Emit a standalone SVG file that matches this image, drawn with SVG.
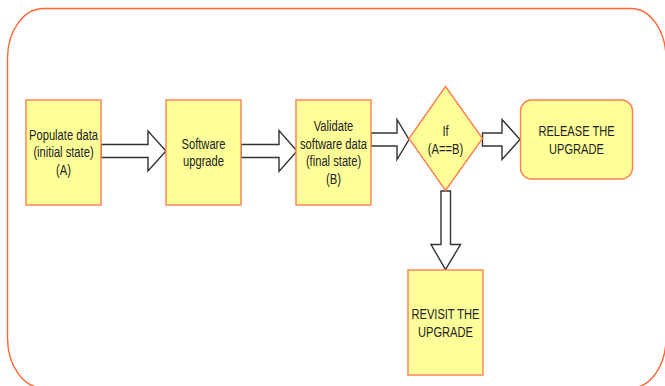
<svg xmlns="http://www.w3.org/2000/svg" width="665" height="386" viewBox="0 0 665 386">
<style>
.node{fill:#ffff99;stroke:#ff7f50;stroke-width:1.4}
.arrow{fill:#ffffff;stroke:#333333;stroke-width:1.4;stroke-linejoin:miter}
.lbl{font-family:"Liberation Sans",Arial,sans-serif;font-size:15px;fill:#222222;text-anchor:middle}
</style>
<rect width="665" height="386" fill="#ffffff"/>
<g id="frame">
<path d="M43.5,8.5 H631 A35,50 0 0 1 666,58.5 V338 A35,50 0 0 1 631,388 H43.5 A36,50 0 0 1 7.5,338 V58.5 A36,50 0 0 1 43.5,8.5 Z" fill="none" stroke="#ff6633" stroke-width="1.4"/>
</g>
<g id="connectors">
<path class="arrow" d="M101,144.5 H148 V131 L166,151 L148,171 V157.5 H101 Z"/>
<path class="arrow" d="M241,144.5 H279 V130.5 L297,151 L279,171.5 V157.5 H241 Z"/>
<path class="arrow" d="M371,133 H397 V119.5 L409,139.5 L397,159.5 V146 H371 Z"/>
<path class="arrow" d="M482.5,133 H502 V119.5 L520,139.5 L502,159.5 V146 H482.5 Z"/>
<path class="arrow" d="M441,191 V244.5 H431 L445.5,269.5 L460.5,244.5 H450.5 V191 Z"/>
</g>
<g id="populate">
<rect class="node" x="26" y="100" width="75" height="105"/>
<g transform="translate(63.5,0) scale(0.745,1)">
<text class="lbl" x="0" y="140">Populate data</text>
<text class="lbl" x="0" y="157.5">(initial state)</text>
<text class="lbl" x="0" y="175">(A)</text>
</g>
</g>
<g id="upgrade">
<rect class="node" x="166" y="100" width="75" height="105"/>
<g transform="translate(203.5,0) scale(0.745,1)">
<text class="lbl" x="0" y="149">Software</text>
<text class="lbl" x="0" y="166.5">upgrade</text>
</g>
</g>
<g id="validate">
<rect class="node" x="296" y="100" width="75" height="105"/>
<g transform="translate(333.5,0) scale(0.745,1)">
<text class="lbl" x="0" y="131">Validate</text>
<text class="lbl" x="0" y="148.7">software data</text>
<text class="lbl" x="0" y="166.3">(final state)</text>
<text class="lbl" x="0" y="184">(B)</text>
</g>
</g>
<g id="decision">
<path class="node" d="M445.5,86.5 L482.5,138.5 L445.5,190.5 L409,138.5 Z"/>
<g transform="translate(445.5,0) scale(0.745,1)">
<text class="lbl" x="0" y="136.5">If</text>
<text class="lbl" x="0" y="154">(A==B)</text>
</g>
</g>
<g id="release">
<rect class="node" x="520.5" y="100" width="112" height="79" rx="11" ry="11"/>
<g transform="translate(576.5,0) scale(0.74,1)">
<text class="lbl" x="0" y="136">RELEASE THE</text>
<text class="lbl" x="0" y="154">UPGRADE</text>
</g>
</g>
<g id="revisit">
<rect class="node" x="408" y="270" width="75" height="105"/>
<g transform="translate(445.5,0) scale(0.74,1)">
<text class="lbl" x="0" y="319.5">REVISIT THE</text>
<text class="lbl" x="0" y="337.5">UPGRADE</text>
</g>
</g>
</svg>
